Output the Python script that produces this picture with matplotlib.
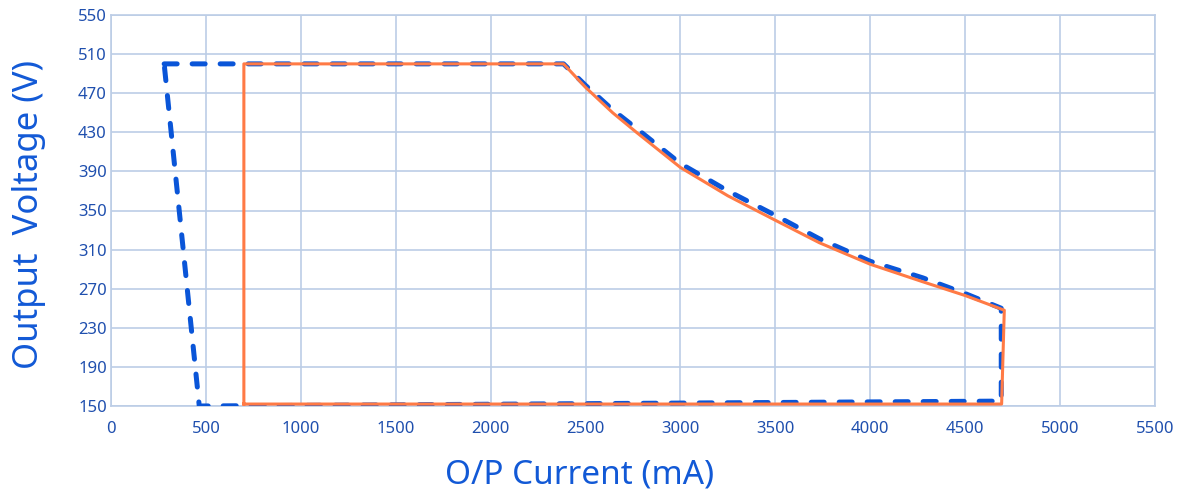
import matplotlib.pyplot as plt
import numpy as np

plt.rcParams['font.family'] = ['Noto Sans', 'DejaVu Sans']

# blue dashed envelope (mA, V)
blue_i = [280, 2384, 2500, 2643, 2768, 3000, 3250, 3500, 3732, 4000, 4278, 4500, 4690, 4690, 465, 280]
blue_v = [500, 500, 478, 453, 434, 398, 370, 345, 321, 298, 281, 265, 250, 155, 150, 500]

# orange solid envelope (mA, V)
orange_i = [700, 700, 2384, 2500, 2643, 2768, 3000, 3250, 3500, 3732, 4000, 4278, 4500, 4706, 4692, 700]
orange_v = [152, 500, 500, 476, 450, 430, 394, 365, 340, 317, 295, 277, 263, 248, 152, 152]

xticks = np.arange(0, 5501, 500)
yticks = np.arange(150, 551, 40)

grid_c = '#bccde6'
tick_c = '#1f4fae'
label_c = '#1259d6'

fig = plt.figure(figsize=(11.88, 4.95), dpi=100)
ax = fig.add_axes([111/1188, 1-406/495, (1155-111)/1188, (406-15)/495])

ax.plot(blue_i, blue_v, color='#0a55d8', lw=3.6, dashes=(2.6, 3.0),
        dash_capstyle='round', solid_capstyle='round', zorder=3)
ax.plot(orange_i, orange_v, color='#ff7a45', lw=2.2, zorder=4)

ax.set_xlim(0, 5500)
ax.set_ylim(150, 550)
ax.set_xticks(xticks)
ax.set_yticks(yticks)
ax.grid(True, color=grid_c, lw=1.2)
ax.set_axisbelow(True)
for s in ax.spines.values():
    s.set_color(grid_c)
    s.set_linewidth(1.2)

ax.tick_params(length=0, labelsize=12, colors=tick_c)
ax.tick_params(axis='x', pad=11)
ax.tick_params(axis='y', pad=3)

ax.set_xlabel('O/P Current (mA)', fontsize=24, color=label_c, fontweight='light')
ax.set_ylabel('Output  Voltage (V)', fontsize=25, color=label_c, fontweight='light')
ax.xaxis.set_label_coords(0.449, -0.135)
ax.yaxis.set_label_coords(-0.062, 0.49)

fig.savefig('out.png', dpi=100)
